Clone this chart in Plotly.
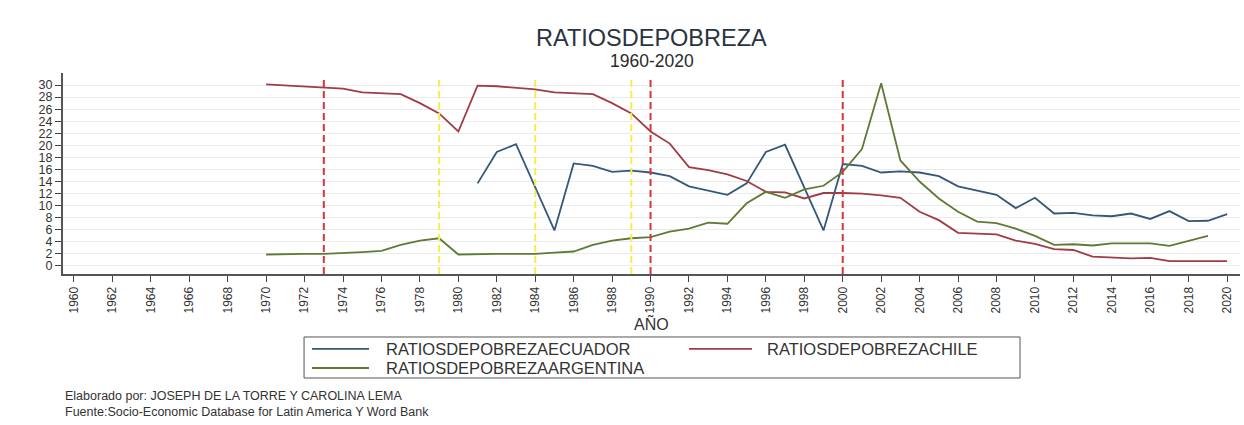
import plotly.graph_objects as go

# ---------------- data ----------------
years_ecuador = list(range(1981, 2021))
ecuador = [13.7, 18.9, 20.2, 13.0, 5.9, 17.0, 16.6, 15.6, 15.8, 15.5,
           14.9, 13.2, 12.5, 11.8, 13.7, 18.9, 20.1, 13.0, 5.9, 16.9,
           16.6, 15.5, 15.7, 15.5, 14.9, 13.2, 12.5, 11.8, 9.6, 11.3,
           8.7, 8.8, 8.4, 8.25, 8.7, 7.8, 9.1, 7.45, 7.5, 8.6]

years_chile = list(range(1970, 2021))
chile = [30.1, 29.9, 29.8, 29.6, 29.4, 28.8, 28.7, 28.5, 27.0, 25.3,
         22.3, 29.9, 29.8, 29.6, 29.3, 28.8, 28.7, 28.5, 27.0, 25.3,
         22.3, 20.3, 16.4, 15.9, 15.2, 14.1, 12.3, 12.2, 11.2, 12.1,
         12.1, 12.0, 11.7, 11.3, 9.0, 7.6, 5.5, 5.4, 5.25, 4.2,
         3.65, 2.8, 2.65, 1.55, 1.4, 1.25, 1.35, 0.8, 0.8, 0.8, 0.8]

years_argentina = list(range(1970, 2020))
argentina = [1.9, 2.0, 2.0, 2.0, 2.1, 2.3, 2.5, 3.5, 4.2, 4.6,
             1.9, 2.0, 2.0, 2.0, 2.0, 2.2, 2.4, 3.5, 4.2, 4.6,
             4.8, 5.7, 6.2, 7.2, 7.0, 10.4, 12.3, 11.3, 12.7, 13.3,
             15.6, 19.4, 30.3, 17.5, 14.0, 11.2, 9.0, 7.35, 7.1, 6.2,
             5.0, 3.5, 3.6, 3.4, 3.75, 3.75, 3.75, 3.35, 4.2, 5.0]

red_lines_years = [1973, 1990, 2000]
yellow_lines_years = [1979, 1984, 1989]

x_tick_values = list(range(1960, 2021, 2))
y_tick_values = list(range(0, 31, 2))

series_names = ["RATIOSDEPOBREZAECUADOR", "RATIOSDEPOBREZACHILE", "RATIOSDEPOBREZAARGENTINA"]
series_colors = ["#35587a", "#a03c45", "#5f7a35"]

title_text = "RATIOSDEPOBREZA"
subtitle_text = "1960-2020"
x_title = "AÑO"
footer_1 = "Elaborado por: JOSEPH DE LA TORRE Y CAROLINA LEMA"
footer_2 = "Fuente:Socio-Economic Database for Latin America Y Word Bank"

# ---------------- figure ----------------
fig = go.Figure()
for xs, ys, name, col in [
    (years_ecuador, ecuador, series_names[0], series_colors[0]),
    (years_chile, chile, series_names[1], series_colors[1]),
    (years_argentina, argentina, series_names[2], series_colors[2]),
]:
    fig.add_trace(go.Scatter(x=xs, y=ys, mode="lines", name=name, showlegend=False,
                             line=dict(color=col, width=1.8)))

shapes = []
for yr in red_lines_years:
    shapes.append(dict(type="line", xref="x", yref="paper", x0=yr, x1=yr, y0=0, y1=0.98,
                       line=dict(color="#d8343a", width=2, dash="7px,4px"), layer="above"))
for yr in yellow_lines_years:
    shapes.append(dict(type="line", xref="x", yref="paper", x0=yr, x1=yr, y0=0, y1=0.98,
                       line=dict(color="#f3ee4c", width=2, dash="7px,4px"), layer="above"))

# legend box (drawn as a framed key below the plot)
shapes.append(dict(type="rect", xref="paper", yref="paper", x0=0.2048, x1=0.8131,
                   y0=-0.5174, y1=-0.3134, line=dict(color="#555555", width=1),
                   fillcolor="white", layer="above"))
legend_slots = [  # (sample x0, sample x1, text x, row y) in paper units
    (0.2115, 0.2600, 0.2727, -0.373),
    (0.5319, 0.5854, 0.5964, -0.373),
    (0.2115, 0.2600, 0.2727, -0.4677),
]
annotations = []
for (sx0, sx1, tx, ry), name, col in zip(legend_slots, series_names, series_colors):
    shapes.append(dict(type="line", xref="paper", yref="paper", x0=sx0, x1=sx1, y0=ry, y1=ry,
                       line=dict(color=col, width=1.8), layer="above"))
    annotations.append(dict(text=name, xref="paper", yref="paper", x=tx, y=ry,
                            xanchor="left", yanchor="middle", showarrow=False,
                            font=dict(size=16.5, color="#333333")))

font_family = "Liberation Sans, Arial, sans-serif"

annotations += [
    dict(text=title_text, xref="paper", yref="paper", x=0.5, y=1.174,
         xanchor="center", yanchor="middle", showarrow=False,
         font=dict(size=23.5, color="#2a3340")),
    dict(text=subtitle_text, xref="paper", yref="paper", x=0.5, y=1.06,
         xanchor="center", yanchor="middle", showarrow=False,
         font=dict(size=17.5, color="#2a2a2a")),
    dict(text=x_title, xref="paper", yref="paper", x=0.5, y=-0.244,
         xanchor="center", yanchor="middle", showarrow=False,
         font=dict(size=16, color="#333333")),
    dict(text=footer_1 + "<br>" + footer_2, xref="paper", yref="paper", x=0.0, y=-0.647,
         xanchor="left", yanchor="middle", align="left", showarrow=False,
         font=dict(size=12.5, color="#333333")),
]

fig.update_layout(
    width=1244, height=425,
    margin=dict(l=63, r=4, t=73, b=151, autoexpand=False),
    paper_bgcolor="white", plot_bgcolor="white",
    font=dict(family=font_family, color="#333333"),
    shapes=shapes,
    showlegend=False,
    xaxis=dict(range=[1959.43, 2020.67], tickvals=x_tick_values, tickangle=-90,
               ticks="outside", ticklen=6, tickwidth=1, tickcolor="#444444",
               showline=True, linecolor="#555555", linewidth=2,
               showgrid=False, zeroline=False,
               tickfont=dict(size=12, color="#333333")),
    yaxis=dict(range=[-1.33, 32.0], tickvals=y_tick_values,
               ticks="outside", ticklen=6, tickwidth=1, tickcolor="#444444",
               showline=True, linecolor="#555555", linewidth=2,
               showgrid=True, gridcolor="#ebebeb", gridwidth=1, zeroline=False,
               tickfont=dict(size=12.5, color="#333333")),
    annotations=annotations,
)

fig.write_html("out.html", config={"displayModeBar": False},
               post_script="document.body.style.margin='0';")
